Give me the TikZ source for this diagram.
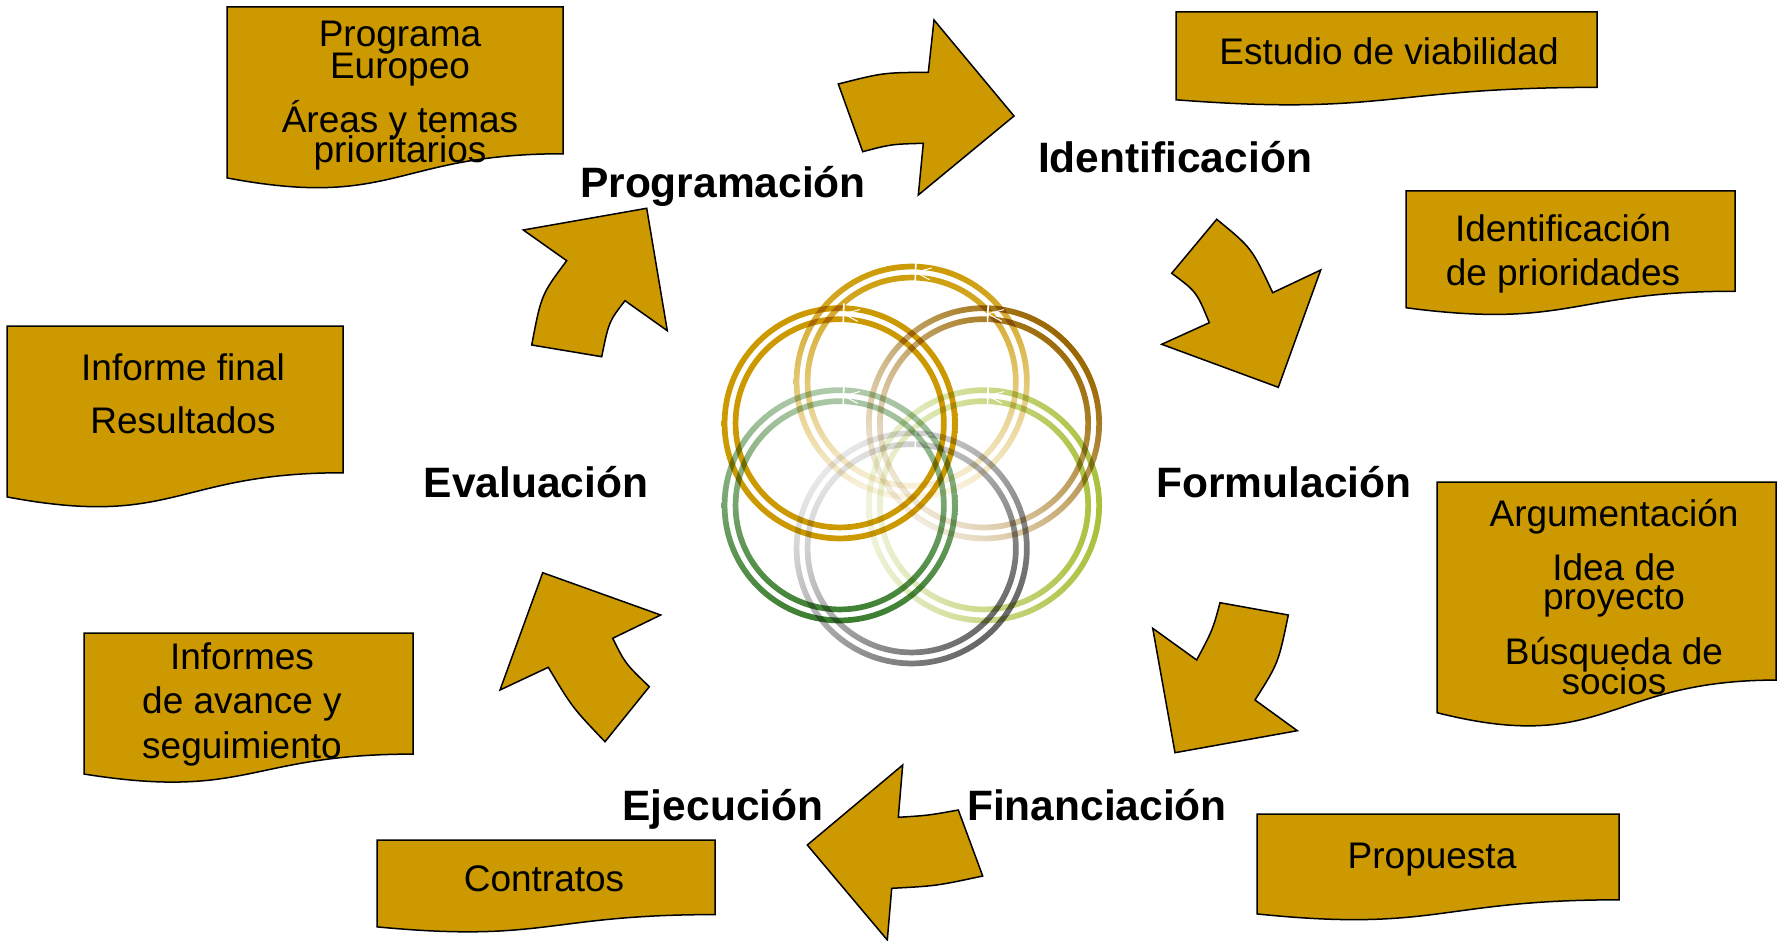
\documentclass[tikz,border=0pt]{standalone}
\usepackage{fontspec}
\setmainfont{Liberation Sans}
\usetikzlibrary{calc}
\definecolor{gold}{RGB}{204,153,0}
\definecolor{brownc}{RGB}{153,102,0}
\definecolor{greenc}{RGB}{58,125,46}
\definecolor{ygreen}{RGB}{168,192,58}
\definecolor{grayc}{RGB}{102,102,102}
\tikzset{
  shapefill/.style={fill=gold, draw=black, line width=1.5pt, line join=miter},
  doctext/.style={anchor=base, inner sep=0pt, font=\fontsize{37}{37}\selectfont},
  phase/.style={anchor=base, inner sep=0pt, font=\fontsize{42.5}{42.5}\selectfont\bfseries},
  notch/.style={white, line width=1.6pt},
}
\newcommand\docshape[4]{%
  \pgfmathsetmacro\dxa{#1+#3}%
  \pgfmathsetmacro\dya{#2+0.802*#4}%
  \pgfmathsetmacro\dxm{#1+0.5*#3}%
  \pgfmathsetmacro\dyb{#2+1.1075*#4}%
  \pgfmathsetmacro\dyc{#2+0.934*#4}%
  \draw[shapefill] (#1,#2) -- (\dxa,#2) -- (\dxa,\dya) .. controls (\dxm,\dya) and (\dxm,\dyb) .. (#1,\dyc) -- cycle;
}
\newcommand\ringpair[6]{%
  \shade[blend mode=multiply, even odd rule, top color=#3, middle color=#3!#6, bottom color=#3!#5, shading angle=#4]
    (#1,#2) circle[radius=118pt] (#1,#2) circle[radius=112.3pt]
    (#1,#2) circle[radius=107pt] (#1,#2) circle[radius=101.3pt];
  \draw[notch] ($(#1,#2)+(88:99pt)$) -- ($(#1,#2)+(88:120pt)$);
  \draw[notch, line width=1pt] ($(#1,#2)+(80:103.5pt)$) -- ($(#1,#2)+(88:109.5pt)$) -- ($(#1,#2)+(80:115.5pt)$);
}
\begin{document}
\begin{tikzpicture}[x=1pt,y=-1pt]
\fill[white] (0,0) rectangle (1784,941);
\useasboundingbox (0,0) rectangle (1784,941);

% documents
\docshape{227}{7}{336}{183}
\docshape{7}{326}{336}{183}
\docshape{84}{633}{329}{151}
\docshape{377}{840}{338}{93}
\docshape{1257}{814}{362}{107}
\docshape{1437}{482}{339}{247}
\docshape{1176}{12}{421}{94}
\docshape{1406}{191}{329}{125}

% curved block arrows
\draw[shapefill] (838.3,84) .. controls (883.3,72.6) .. (928.3,72.3) -- (934,20) -- (1014,116) -- (918.3,195) -- (923.3,143.3) .. controls (891.3,144.2) .. (862.7,151.7) -- cycle;
\draw[shapefill] (1216.7,219.3) .. controls (1251.8,248) .. (1272.7,292.7) -- (1320.7,270) -- (1278.3,387.3) -- (1161.7,344.3) -- (1209.3,322.7) .. controls (1196.5,291.7) .. (1171.7,273.3) -- cycle;
\draw[shapefill] (1288.3,615) .. controls (1278.4,663.1) .. (1255,700) -- (1297.3,730.7) -- (1175,752.7) -- (1152.7,628.3) -- (1196.7,660) .. controls (1212.8,629.6) .. (1220,602.7) -- cycle;
\draw[shapefill] (982.7,876) .. controls (936.5,885.9) .. (891.7,888.3) -- (887.3,940) -- (807.3,845) -- (902.7,765) -- (898.3,817.3) .. controls (928.3,815.4) .. (958.3,810) -- cycle;
\draw[shapefill] (605,741.7) .. controls (572.2,707.4) .. (548.3,667.3) -- (500,690) -- (542.7,572.7) -- (660.7,615) -- (612.7,638.3) .. controls (625.3,663.6) .. (649.3,686.7) -- cycle;
\draw[shapefill] (531.7,345) .. controls (541.3,294.6) .. (566.7,260.7) -- (523.3,230) -- (646.7,208.3) -- (667.3,330.7) -- (625,300.7) .. controls (608.9,321.5) .. (601.7,356.7) -- cycle;

% central rings
\ringpair{911.7}{381.7}{gold}{0}{10}{60}
\ringpair{984}{423.3}{brownc}{-45}{12}{75}
\ringpair{984}{505.3}{ygreen}{-90}{18}{80}
\ringpair{911.7}{548.3}{grayc}{-135}{15}{90}
\ringpair{839.7}{505.3}{greenc}{180}{40}{90}
\ringpair{839.7}{423.3}{gold}{0}{100}{100}

% document texts
\node[doctext] (d1a) at (400,47) {Programa};
\node[doctext] (d1b) at (400,79) {Europeo};
\node[doctext] (d1c) at (400,133) {Áreas y temas};
\node[doctext] (d1d) at (400,163) {prioritarios};
\node[doctext] (d2a) at (183,380) {Informe final};
\node[doctext] (d2b) at (183,433) {Resultados};
\node[doctext] (d3a) at (242,669) {Informes};
\node[doctext] (d3b) at (242,713) {de avance y};
\node[doctext] (d3c) at (242,758) {seguimiento};
\node[doctext] (d4) at (544,891) {Contratos};
\node[doctext] (d5) at (1432,868) {Propuesta};
\node[doctext] (d6a) at (1614,526) {Argumentación};
\node[doctext] (d6b) at (1614,580) {Idea de};
\node[doctext] (d6c) at (1614,609) {proyecto};
\node[doctext] (d6d) at (1614,664) {Búsqueda de};
\node[doctext] (d6e) at (1614,694) {socios};
\node[doctext] (d7) at (1389,65) {Estudio de viabilidad};
\node[doctext] (d8a) at (1563,242) {Identificación};
\node[doctext] (d8b) at (1563,285) {de prioridades};

% phase labels
\node[phase] (p1) at (723,198) {Programación};
\node[phase] (p2) at (1175,173) {Identificación};
\node[phase] (p3) at (1284,497) {Formulación};
\node[phase] (p4) at (1097,820) {Financiación};
\node[phase] (p5) at (723,820) {Ejecución};
\node[phase] (p6) at (536,497) {Evaluación};
\end{tikzpicture}
\end{document}
